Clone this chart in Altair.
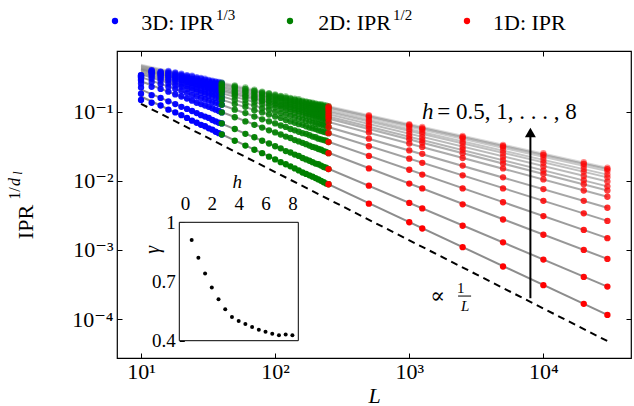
import altair as alt
import pandas as pd

FONT = "Liberation Serif, DejaVu Serif, serif"

# ---------------- data ----------------
H = [0.5, 1.0, 1.5, 2.0, 2.5, 3.0, 3.5, 4.0, 4.5, 5.0, 5.5, 6.0, 6.5, 7.0, 7.5, 8.0]
GAMMA = [0.91, 0.82, 0.74, 0.67, 0.61, 0.56, 0.52, 0.50, 0.485, 0.47, 0.455, 0.445,
         0.435, 0.428, 0.432, 0.428]

FIT_L = [10, 30000]
FIT_LOG_IPR_START = [-0.78, -0.68, -0.56, -0.50, -0.46, -0.44, -0.42, -0.40, -0.39, -0.38,
                     -0.37, -0.36, -0.35, -0.34, -0.33, -0.32]
FIT_LOG_IPR_END = [-3.94, -3.53, -3.13, -2.83, -2.58, -2.39, -2.23, -2.14, -2.08, -2.01,
                   -1.95, -1.91, -1.86, -1.83, -1.83, -1.81]

DASH_L = [10, 30000]
DASH_IPR = [0.13, 4.8e-5]

L_3D = [10, 12, 14, 16, 18, 20, 22, 24, 26, 28, 30, 32, 34, 36, 38, 40]
L_2D = [40, 50, 60, 70, 80, 90, 100, 110, 120, 130, 140, 150, 160, 170, 180, 190, 200,
        210, 220, 230, 240, 250]
L_1D = [250, 500, 1000, 1250, 2500, 5000, 10000, 20000, 30000]

# log10 of IPR^(1/d); one row per h, one column per L
LOG_IPR_3D = [
    [-0.83, -0.87, -0.91, -0.97, -1.01, -1.05, -1.09, -1.13, -1.16, -1.19, -1.21, -1.24, -1.26, -1.29, -1.31, -1.33],
    [-0.74, -0.76, -0.80, -0.85, -0.89, -0.93, -0.96, -0.99, -1.02, -1.05, -1.07, -1.09, -1.12, -1.14, -1.16, -1.17],
    [-0.65, -0.64, -0.67, -0.71, -0.75, -0.78, -0.81, -0.84, -0.87, -0.89, -0.91, -0.93, -0.95, -0.97, -0.99, -1.01],
    [-0.59, -0.57, -0.60, -0.64, -0.67, -0.70, -0.73, -0.76, -0.78, -0.80, -0.82, -0.84, -0.86, -0.87, -0.89, -0.90],
    [-0.55, -0.52, -0.55, -0.59, -0.62, -0.64, -0.67, -0.69, -0.71, -0.73, -0.75, -0.77, -0.78, -0.80, -0.81, -0.83],
    [-0.53, -0.49, -0.52, -0.55, -0.58, -0.61, -0.63, -0.65, -0.67, -0.69, -0.71, -0.72, -0.74, -0.75, -0.76, -0.78],
    [-0.51, -0.47, -0.50, -0.53, -0.55, -0.58, -0.60, -0.62, -0.64, -0.65, -0.67, -0.68, -0.70, -0.71, -0.72, -0.73],
    [-0.50, -0.45, -0.48, -0.50, -0.53, -0.55, -0.57, -0.59, -0.61, -0.62, -0.64, -0.65, -0.67, -0.68, -0.69, -0.70],
    [-0.49, -0.44, -0.47, -0.49, -0.51, -0.54, -0.56, -0.57, -0.59, -0.61, -0.62, -0.64, -0.65, -0.66, -0.67, -0.68],
    [-0.49, -0.43, -0.46, -0.48, -0.50, -0.52, -0.54, -0.56, -0.58, -0.59, -0.60, -0.62, -0.63, -0.64, -0.65, -0.66],
    [-0.48, -0.42, -0.45, -0.46, -0.49, -0.51, -0.53, -0.54, -0.56, -0.57, -0.59, -0.60, -0.61, -0.62, -0.63, -0.64],
    [-0.48, -0.42, -0.44, -0.45, -0.47, -0.49, -0.51, -0.53, -0.55, -0.56, -0.57, -0.59, -0.60, -0.61, -0.62, -0.63],
    [-0.48, -0.41, -0.43, -0.44, -0.46, -0.48, -0.50, -0.52, -0.53, -0.55, -0.56, -0.57, -0.58, -0.59, -0.60, -0.61],
    [-0.47, -0.41, -0.43, -0.43, -0.45, -0.47, -0.49, -0.50, -0.52, -0.53, -0.54, -0.56, -0.57, -0.58, -0.59, -0.60],
    [-0.47, -0.40, -0.42, -0.42, -0.44, -0.46, -0.48, -0.49, -0.51, -0.52, -0.54, -0.55, -0.56, -0.57, -0.58, -0.59],
    [-0.47, -0.40, -0.42, -0.41, -0.43, -0.45, -0.47, -0.48, -0.50, -0.51, -0.52, -0.54, -0.55, -0.56, -0.57, -0.58],
]

LOG_IPR_2D = [
    [-1.33, -1.42, -1.49, -1.55, -1.60, -1.65, -1.69, -1.73, -1.76, -1.79, -1.82, -1.85, -1.88, -1.90, -1.92, -1.94, -1.96, -1.98, -2.00, -2.02, -2.04, -2.05],
    [-1.17, -1.25, -1.32, -1.37, -1.42, -1.46, -1.50, -1.53, -1.57, -1.59, -1.62, -1.64, -1.67, -1.69, -1.71, -1.73, -1.75, -1.76, -1.78, -1.80, -1.81, -1.83],
    [-1.01, -1.08, -1.14, -1.19, -1.23, -1.27, -1.30, -1.33, -1.36, -1.38, -1.41, -1.43, -1.45, -1.47, -1.49, -1.51, -1.52, -1.54, -1.55, -1.57, -1.58, -1.60],
    [-0.90, -0.97, -1.02, -1.07, -1.11, -1.14, -1.17, -1.20, -1.22, -1.25, -1.27, -1.29, -1.31, -1.32, -1.34, -1.36, -1.37, -1.39, -1.40, -1.41, -1.42, -1.44],
    [-0.83, -0.89, -0.93, -0.98, -1.01, -1.04, -1.07, -1.09, -1.12, -1.14, -1.16, -1.18, -1.19, -1.21, -1.23, -1.24, -1.25, -1.27, -1.28, -1.29, -1.30, -1.31],
    [-0.78, -0.83, -0.88, -0.91, -0.95, -0.97, -1.00, -1.02, -1.04, -1.06, -1.08, -1.10, -1.11, -1.13, -1.14, -1.16, -1.17, -1.18, -1.19, -1.20, -1.21, -1.22],
    [-0.73, -0.78, -0.83, -0.86, -0.89, -0.92, -0.94, -0.96, -0.98, -1.00, -1.02, -1.03, -1.05, -1.06, -1.07, -1.09, -1.10, -1.11, -1.12, -1.13, -1.14, -1.15],
    [-0.70, -0.75, -0.79, -0.82, -0.85, -0.88, -0.90, -0.92, -0.94, -0.96, -0.97, -0.99, -1.00, -1.02, -1.03, -1.04, -1.05, -1.06, -1.07, -1.08, -1.09, -1.10],
    [-0.68, -0.73, -0.77, -0.80, -0.83, -0.85, -0.88, -0.90, -0.91, -0.93, -0.95, -0.96, -0.97, -0.99, -1.00, -1.01, -1.02, -1.03, -1.04, -1.05, -1.06, -1.07],
    [-0.66, -0.71, -0.75, -0.78, -0.80, -0.83, -0.85, -0.87, -0.89, -0.90, -0.92, -0.93, -0.95, -0.96, -0.97, -0.98, -0.99, -1.00, -1.01, -1.02, -1.03, -1.04],
    [-0.64, -0.69, -0.72, -0.76, -0.78, -0.80, -0.83, -0.84, -0.86, -0.88, -0.89, -0.91, -0.92, -0.93, -0.94, -0.95, -0.96, -0.97, -0.98, -0.99, -1.00, -1.01],
    [-0.63, -0.67, -0.71, -0.74, -0.76, -0.79, -0.81, -0.82, -0.84, -0.86, -0.87, -0.88, -0.90, -0.91, -0.92, -0.93, -0.94, -0.95, -0.96, -0.97, -0.97, -0.98],
    [-0.61, -0.65, -0.69, -0.72, -0.74, -0.77, -0.79, -0.80, -0.82, -0.84, -0.85, -0.86, -0.87, -0.89, -0.90, -0.91, -0.92, -0.93, -0.93, -0.94, -0.95, -0.96],
    [-0.60, -0.64, -0.67, -0.70, -0.73, -0.75, -0.77, -0.79, -0.80, -0.82, -0.83, -0.84, -0.86, -0.87, -0.88, -0.89, -0.90, -0.91, -0.91, -0.92, -0.93, -0.94],
    [-0.59, -0.63, -0.67, -0.70, -0.72, -0.74, -0.76, -0.78, -0.80, -0.81, -0.83, -0.84, -0.85, -0.86, -0.87, -0.88, -0.89, -0.90, -0.91, -0.92, -0.93, -0.93],
    [-0.58, -0.62, -0.65, -0.68, -0.71, -0.73, -0.75, -0.77, -0.78, -0.80, -0.81, -0.82, -0.84, -0.85, -0.86, -0.87, -0.88, -0.89, -0.89, -0.90, -0.91, -0.92],
]

LOG_IPR_1D = [
    [-2.05, -2.33, -2.60, -2.69, -2.96, -3.24, -3.51, -3.78, -3.94],
    [-1.83, -2.07, -2.32, -2.40, -2.65, -2.89, -3.14, -3.39, -3.53],
    [-1.60, -1.82, -2.04, -2.11, -2.34, -2.56, -2.78, -3.00, -3.13],
    [-1.44, -1.64, -1.84, -1.91, -2.11, -2.31, -2.51, -2.71, -2.83],
    [-1.31, -1.50, -1.68, -1.74, -1.92, -2.11, -2.29, -2.47, -2.58],
    [-1.22, -1.39, -1.56, -1.61, -1.78, -1.95, -2.12, -2.29, -2.39],
    [-1.15, -1.30, -1.46, -1.51, -1.67, -1.82, -1.98, -2.14, -2.23],
    [-1.10, -1.25, -1.40, -1.45, -1.60, -1.75, -1.90, -2.05, -2.14],
    [-1.07, -1.21, -1.36, -1.41, -1.55, -1.70, -1.85, -1.99, -2.08],
    [-1.04, -1.18, -1.32, -1.37, -1.51, -1.65, -1.79, -1.93, -2.01],
    [-1.01, -1.14, -1.28, -1.32, -1.46, -1.60, -1.74, -1.87, -1.95],
    [-0.98, -1.12, -1.25, -1.29, -1.43, -1.56, -1.70, -1.83, -1.91],
    [-0.96, -1.09, -1.22, -1.26, -1.39, -1.52, -1.66, -1.79, -1.86],
    [-0.94, -1.07, -1.20, -1.24, -1.37, -1.50, -1.62, -1.75, -1.83],
    [-0.93, -1.06, -1.19, -1.24, -1.37, -1.50, -1.63, -1.76, -1.83],
    [-0.92, -1.05, -1.18, -1.22, -1.35, -1.48, -1.60, -1.73, -1.81],
]

X_TICKS = [10, 100, 1000, 10000]
Y_TICKS = [1e-4, 1e-3, 1e-2, 1e-1]
INSET_H_TICKS = [0, 2, 4, 6, 8]
INSET_G_TICKS = [0.4, 0.7, 1.0]


# ---------------- tables ----------------
def points(Ls, table):
    rows = []
    for i, h in enumerate(H):
        for j, L in enumerate(Ls):
            rows.append({"h": h, "L": L, "ipr": 10 ** table[i][j]})
    return pd.DataFrame(rows)


df3 = points(L_3D, LOG_IPR_3D)
df2 = points(L_2D, LOG_IPR_2D)
df1 = points(L_1D, LOG_IPR_1D)

fit_rows = []
for i, h in enumerate(H):
    fit_rows.append({"h": h, "L": FIT_L[0], "ipr": 10 ** FIT_LOG_IPR_START[i]})
    fit_rows.append({"h": h, "L": FIT_L[1], "ipr": 10 ** FIT_LOG_IPR_END[i]})
fit_df = pd.DataFrame(fit_rows)

dash_df = pd.DataFrame({"L": DASH_L, "ipr": DASH_IPR})
inset_df = pd.DataFrame({"h": H, "gamma": GAMMA})
ONE = pd.DataFrame({"a": [0]})

# ---------------- scales & axes ----------------
XS = alt.Scale(type="log", domain=[6.62, 45000], nice=False)
YS = alt.Scale(type="log", domain=[2.73e-5, 0.756], nice=False)

AX = dict(domain=False, grid=False, tickColor="black", tickWidth=1, labelColor="black",
          labelFont=FONT, labelFontSize=22, labelFlush=False, labelOverlap=False)

x_bottom = alt.Axis(orient="bottom", values=X_TICKS, offset=-5, tickSize=5, labelPadding=3,
                    labelExpr="datum.value < 50 ? '10¹' : datum.value < 500 ? '10²' : datum.value < 5000 ? '10³' : '10⁴'",
                    title="L", titleFont=FONT, titleFontSize=22, titleFontStyle="italic",
                    titleFontWeight="normal", titleColor="black", titlePadding=3, **AX)
y_left = alt.Axis(orient="left", values=Y_TICKS, offset=-5, tickSize=5, labelPadding=4,
                  labelExpr="datum.value > 0.05 ? '10⁻¹' : datum.value > 0.005 ? '10⁻²' : datum.value > 0.0005 ? '10⁻³' : '10⁻⁴'",
                  title=None, **AX)
x_top = alt.Axis(orient="top", values=X_TICKS, offset=-5, tickSize=5, labels=False, title=None,
                 domain=False, grid=False, tickColor="black")
y_right = alt.Axis(orient="right", values=Y_TICKS, offset=-5, tickSize=5, labels=False, title=None,
                   domain=False, grid=False, tickColor="black")

OP_PTS = alt.Opacity("h:Q", scale=alt.Scale(domain=[0.5, 8], range=[1.0, 0.45]), legend=None)
OP_LIN = alt.Opacity("h:Q", scale=alt.Scale(domain=[0.5, 8], range=[0.9, 0.3]), legend=None)

# ---------------- main layers ----------------
fits = alt.Chart(fit_df).mark_line(color="gray", strokeWidth=2).encode(
    x=alt.X("L:Q", scale=XS, axis=None), y=alt.Y("ipr:Q", scale=YS, axis=None),
    detail="h:N", opacity=OP_LIN)

dashed = alt.Chart(dash_df).mark_line(color="black", strokeWidth=2, strokeDash=[7, 5]).encode(
    x=alt.X("L:Q", scale=XS, axis=x_top), y=alt.Y("ipr:Q", scale=YS, axis=y_right))


def dots(df, color, xaxis=None, yaxis=None):
    return alt.Chart(df).mark_circle(size=40, color=color).encode(
        x=alt.X("L:Q", scale=XS, axis=xaxis), y=alt.Y("ipr:Q", scale=YS, axis=yaxis),
        opacity=OP_PTS)


p3 = dots(df3, "#0000ff")
p2 = dots(df2, "#008000")
p1 = dots(df1, "#ff0000", x_bottom, y_left)

arrow_shaft = alt.Chart(pd.DataFrame({"L": [8000], "y0": [2.0e-4], "y1": [0.045]})).mark_rule(
    color="black", strokeWidth=2).encode(
    x=alt.X("L:Q", scale=XS, axis=None), y=alt.Y("y0:Q", scale=YS, axis=None), y2="y1:Q")
arrow_head = alt.Chart(pd.DataFrame({"L": [8000], "ipr": [0.05]})).mark_point(
    shape="triangle-up", size=120, filled=True, color="black", opacity=1).encode(
    x=alt.X("L:Q", scale=XS, axis=None), y=alt.Y("ipr:Q", scale=YS, axis=None))


def dtext(txt, L, ipr, size, align="center", baseline="middle", style="normal"):
    return alt.Chart(pd.DataFrame({"L": [L], "ipr": [ipr]})).mark_text(
        text=txt, font=FONT, fontSize=size, align=align, baseline=baseline,
        fontStyle=style, color="black").encode(
        x=alt.X("L:Q", scale=XS, axis=None), y=alt.Y("ipr:Q", scale=YS, axis=None))


h_lab1 = dtext("h", 1242, 0.0784, 23, align="left", baseline="alphabetic", style="italic")
h_lab2 = dtext("=  0.5, 1, . . . , 8", 1615, 0.0784, 23, align="left", baseline="alphabetic")
prop = dtext("∝", 1629, 2.15e-4, 22)
frac1 = dtext("1", 2415, 2.81e-4, 15)
fracL = dtext("L", 2612, 1.54e-4, 15, style="italic")
frac_bar = alt.Chart(pd.DataFrame({"x0": [2312], "x1": [2891], "ipr": [2.15e-4]})).mark_rule(
    color="black", strokeWidth=1).encode(
    x=alt.X("x0:Q", scale=XS, axis=None), x2="x1:Q", y=alt.Y("ipr:Q", scale=YS, axis=None))


def ptext(txt, px, py, size, align="center", baseline="middle", angle=0, style="normal"):
    return alt.Chart(ONE).mark_text(text=txt, font=FONT, fontSize=size, align=align,
                                    baseline=baseline, angle=angle, fontStyle=style,
                                    color="black").encode(x=alt.value(px), y=alt.value(py))


def pdot(color, px, py):
    return alt.Chart(ONE).mark_circle(size=40, color=color, opacity=1).encode(
        x=alt.value(px), y=alt.value(py))


legend_layers = [
    pdot("#0000ff", -2, -30), ptext("3D: IPR", 97, -28, 22, align="right"),
    ptext("1/3", 99, -36, 15, align="left"),
    pdot("#008000", 173, -30), ptext("2D: IPR", 274, -28, 22, align="right"),
    ptext("1/2", 276, -36, 15, align="left"),
    pdot("#ff0000", 350, -30), ptext("1D: IPR", 376, -28, 22, align="left"),
]

ylab_layers = [
    ptext("IPR", -91, 171, 22, angle=270),
    ptext("1/", -102.5, 142.5, 16, angle=270),
    ptext("d", -102.5, 131, 16, angle=270, style="italic"),
    ptext("l", -99.5, 122, 12, angle=270, style="italic"),
]

# ---------------- inset ----------------
IXS = alt.Scale(domain=[-0.42, 8.44], range=[62.3, 181.3], nice=False, zero=False)
IYS = alt.Scale(domain=[0.4, 1.0], range=[289.7, 171.3], nice=False, zero=False)

inset_frame = alt.Chart(pd.DataFrame({"h0": [-0.42], "h1": [8.44], "g0": [0.4], "g1": [1.0]})).mark_rect(
    fill="white", stroke="black", strokeWidth=1).encode(
    x=alt.X("h0:Q", scale=IXS, axis=None), x2="h1:Q",
    y=alt.Y("g0:Q", scale=IYS, axis=None), y2="g1:Q")

IAX = dict(domain=False, grid=False, tickColor="black", labelColor="black", labelFont=FONT,
           labelFontSize=19, labelFlush=False, labelOverlap=False, title=None)

inset_pts = alt.Chart(inset_df).mark_circle(size=16, color="black", opacity=1).encode(
    x=alt.X("h:Q", scale=IXS, axis=alt.Axis(orient="top", values=INSET_H_TICKS, offset=-176.3,
                                            tickSize=5, labelPadding=9, **IAX)),
    y=alt.Y("gamma:Q", scale=IYS, axis=alt.Axis(orient="left", values=INSET_G_TICKS, offset=-67.3,
                                                tickSize=5, labelPadding=4,
                                                labelExpr="datum.value > 0.95 ? '1' : format(datum.value, '.1f')",
                                                **IAX)))


def itext(txt, h, g, size, angle=0, style="normal", baseline="middle"):
    return alt.Chart(pd.DataFrame({"h": [h], "g": [g]})).mark_text(
        text=txt, font=FONT, fontSize=size, angle=angle, fontStyle=style, color="black",
        align="center", baseline=baseline).encode(
        x=alt.X("h:Q", scale=IXS, axis=None), y=alt.Y("g:Q", scale=IYS, axis=None))


chart = alt.layer(
    fits, dashed, p3, p2, p1, arrow_shaft, arrow_head,
    h_lab1, h_lab2, prop, frac1, fracL, frac_bar,
    *legend_layers, *ylab_layers,
    inset_frame, inset_pts,
    itext("h", 3.9, 1.172, 19, style="italic", baseline="alphabetic"),
    itext("γ", -2.36, 0.86, 20, angle=270, style="italic"),
).resolve_scale(x="independent", y="independent", opacity="independent").properties(
    width=514, height=307,
    padding={"left": 117, "top": 51, "right": 3, "bottom": 48},
    autosize=alt.AutoSizeParams(type="none"),
).configure_view(stroke="black", strokeWidth=1.2)

chart.save("out.html", embed_options={"renderer": "svg", "actions": False})
